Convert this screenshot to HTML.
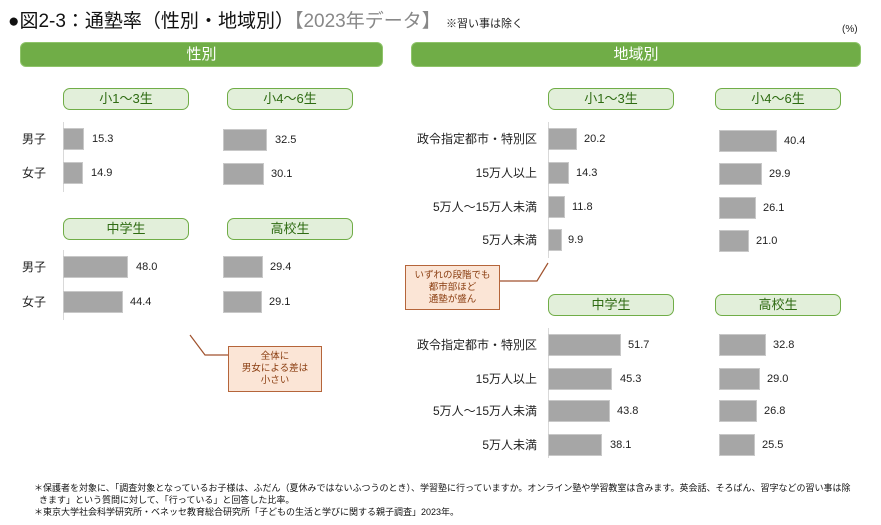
<!DOCTYPE html>
<html><head><meta charset="utf-8"><style>
*{margin:0;padding:0;box-sizing:border-box}
body{width:881px;height:525px;background:#fff;position:relative;overflow:hidden;font-family:"Liberation Sans","Noto Sans CJK JP",sans-serif;color:#222}
div{position:absolute}
.hb{background:#70ad47;border:1px solid #8fc46a;border-radius:6px;color:#fff;font-size:15px;text-align:center;line-height:23px;height:25px;top:42px}
.pill{background:#e2efda;border:1.5px solid #70ad47;border-radius:7px;color:#2e6b12;font-size:13px;text-align:center;line-height:19px;height:22px;width:126px}
.bar{background:#a6a6a6;border:1px solid #c8c8c8;height:22px}
.v{font-size:11px;line-height:22px;height:22px}
.lab{font-size:12px;line-height:22px;height:22px}
.rl{font-size:12px;line-height:22px;height:22px;text-align:right;width:130px;left:407px}
.ax{width:1px;background:#d9d9d9}
.call{background:#fbe5d6;border:1.5px solid #b5653a;color:#8a3d10;font-size:9.5px;text-align:center;line-height:12px}
</style></head><body>
<div style="left:8px;top:6px;font-size:19px;white-space:nowrap;color:#111">●図2-3：通塾率（性別・地域別）<span style="color:#888">【2023年データ】</span> <span style="font-size:11px;color:#222">※習い事は除く</span></div>
<div style="left:842px;top:24px;font-size:10px">(%)</div>
<div class="hb" style="left:20px;width:363px">性別</div>
<div class="hb" style="left:411px;width:450px">地域別</div>

<!-- left top -->
<div class="pill" style="left:63px;top:88px">小1～3生</div>
<div class="pill" style="left:227px;top:88px">小4～6生</div>
<div class="ax" style="left:63px;top:122px;height:70px"></div>
<div class="lab" style="left:22px;top:128px">男子</div>
<div class="lab" style="left:22px;top:162px">女子</div>
<div class="bar" style="left:63px;top:128px;width:21px"></div><div class="v" style="left:92px;top:128px">15.3</div>
<div class="bar" style="left:63px;top:162px;width:20px"></div><div class="v" style="left:91px;top:162px">14.9</div>
<div class="bar" style="left:223px;top:129px;width:44px"></div><div class="v" style="left:275px;top:129px">32.5</div>
<div class="bar" style="left:223px;top:163px;width:41px"></div><div class="v" style="left:271px;top:163px">30.1</div>

<!-- left bottom -->
<div class="pill" style="left:63px;top:218px">中学生</div>
<div class="pill" style="left:227px;top:218px">高校生</div>
<div class="ax" style="left:63px;top:250px;height:70px"></div>
<div class="lab" style="left:22px;top:256px">男子</div>
<div class="lab" style="left:22px;top:291px">女子</div>
<div class="bar" style="left:63px;top:256px;width:65px"></div><div class="v" style="left:136px;top:256px">48.0</div>
<div class="bar" style="left:63px;top:291px;width:60px"></div><div class="v" style="left:130px;top:291px">44.4</div>
<div class="bar" style="left:223px;top:256px;width:40px"></div><div class="v" style="left:270px;top:256px">29.4</div>
<div class="bar" style="left:223px;top:291px;width:39px"></div><div class="v" style="left:269px;top:291px">29.1</div>

<svg style="position:absolute;left:0;top:0" width="881" height="525"><polyline points="190,335 205,355 228,355" fill="none" stroke="#a0522d" stroke-width="1.2"/><polyline points="500,281 537,281 548,263" fill="none" stroke="#a0522d" stroke-width="1.2"/></svg>
<div class="call" style="left:228px;top:346px;width:94px;height:46px;padding-top:4px">全体に<br>男女による差は<br>小さい</div>
<div class="call" style="left:405px;top:265px;width:95px;height:45px;padding-top:4px">いずれの段階でも<br>都市部ほど<br>通塾が盛ん</div>

<!-- right top -->
<div class="pill" style="left:548px;top:88px">小1～3生</div>
<div class="pill" style="left:715px;top:88px">小4～6生</div>
<div class="ax" style="left:548px;top:122px;height:136px"></div>
<div class="rl" style="top:128px">政令指定都市・特別区</div>
<div class="rl" style="top:162px">15万人以上</div>
<div class="rl" style="top:196px">5万人～15万人未満</div>
<div class="rl" style="top:229px">5万人未満</div>
<div class="bar" style="left:548px;top:128px;width:29px"></div><div class="v" style="left:584px;top:128px">20.2</div>
<div class="bar" style="left:548px;top:162px;width:21px"></div><div class="v" style="left:576px;top:162px">14.3</div>
<div class="bar" style="left:548px;top:196px;width:17px"></div><div class="v" style="left:572px;top:196px">11.8</div>
<div class="bar" style="left:548px;top:229px;width:14px"></div><div class="v" style="left:568px;top:229px">9.9</div>
<div class="bar" style="left:719px;top:130px;width:58px"></div><div class="v" style="left:784px;top:130px">40.4</div>
<div class="bar" style="left:719px;top:163px;width:43px"></div><div class="v" style="left:769px;top:163px">29.9</div>
<div class="bar" style="left:719px;top:197px;width:37px"></div><div class="v" style="left:763px;top:197px">26.1</div>
<div class="bar" style="left:719px;top:230px;width:30px"></div><div class="v" style="left:756px;top:230px">21.0</div>

<!-- right bottom -->
<div class="pill" style="left:548px;top:294px">中学生</div>
<div class="pill" style="left:715px;top:294px">高校生</div>
<div class="ax" style="left:548px;top:328px;height:130px"></div>
<div class="rl" style="top:334px">政令指定都市・特別区</div>
<div class="rl" style="top:368px">15万人以上</div>
<div class="rl" style="top:400px">5万人～15万人未満</div>
<div class="rl" style="top:434px">5万人未満</div>
<div class="bar" style="left:548px;top:334px;width:73px"></div><div class="v" style="left:628px;top:334px">51.7</div>
<div class="bar" style="left:548px;top:368px;width:64px"></div><div class="v" style="left:620px;top:368px">45.3</div>
<div class="bar" style="left:548px;top:400px;width:62px"></div><div class="v" style="left:617px;top:400px">43.8</div>
<div class="bar" style="left:548px;top:434px;width:54px"></div><div class="v" style="left:610px;top:434px">38.1</div>
<div class="bar" style="left:719px;top:334px;width:47px"></div><div class="v" style="left:773px;top:334px">32.8</div>
<div class="bar" style="left:719px;top:368px;width:41px"></div><div class="v" style="left:767px;top:368px">29.0</div>
<div class="bar" style="left:719px;top:400px;width:38px"></div><div class="v" style="left:764px;top:400px">26.8</div>
<div class="bar" style="left:719px;top:434px;width:36px"></div><div class="v" style="left:762px;top:434px">25.5</div>

<div style="left:34px;top:482px;font-size:9px;line-height:12px;width:840px;color:#111">＊保護者を対象に、「調査対象となっているお子様は、ふだん（夏休みではないふつうのとき）、学習塾に行っていますか。オンライン塾や学習教室は含みます。英会話、そろばん、習字などの習い事は除<br>&nbsp;&nbsp;きます」という質問に対して、「行っている」と回答した比率。<br>＊東京大学社会科学研究所・ベネッセ教育総合研究所「子どもの生活と学びに関する親子調査」2023年。</div>
</body></html>
